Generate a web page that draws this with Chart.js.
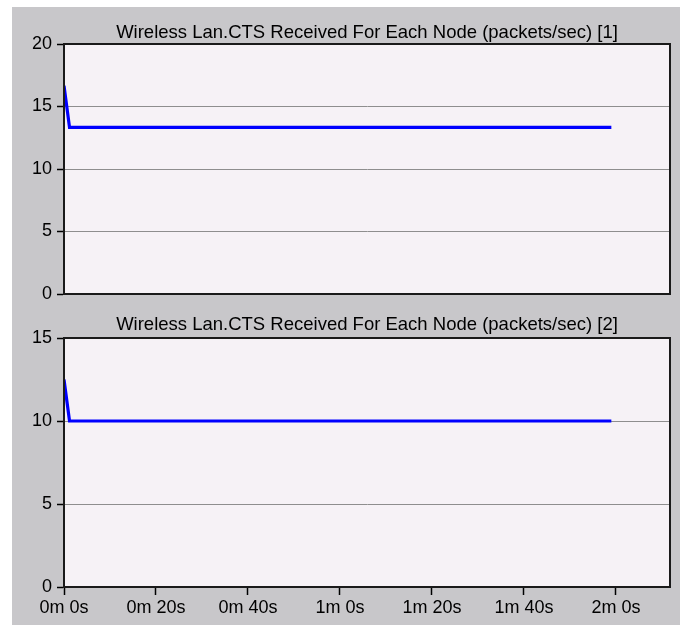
<!DOCTYPE html>
<html>
<head>
<meta charset="utf-8">
<script src="https://cdn.jsdelivr.net/npm/chart.js@4/dist/chart.umd.min.js"></script>
<style>
  html, body { margin: 0; padding: 0; background: #ffffff; }
  #panel { position: absolute; left: 12px; top: 7px; width: 668px; height: 618px; background: #c8c7ca; }
  #c1 { position: absolute; left: 0; top: 0; }
  #c2 { position: absolute; left: 0; top: 300px; }
</style>
</head>
<body>
<div id="panel">
  <canvas id="c1" width="668" height="310"></canvas>
  <canvas id="c2" width="668" height="318"></canvas>
</div>
<script>
// ---- data ----
const title1 = "Wireless Lan.CTS Received For Each Node (packets/sec) [1]";
const title2 = "Wireless Lan.CTS Received For Each Node (packets/sec) [2]";
const timeSec1 = [0, 1.2, 119];
const ctsNode1 = [16.67, 13.33, 13.33];
const timeSec2 = [0, 1.2, 119];
const ctsNode2 = [12.5, 10.0, 10.0];
const xTickValues = [0, 20, 40, 60, 80, 100, 120];
const xTickLabels = ["0m 0s", "0m 20s", "0m 40s", "1m 0s", "1m 20s", "1m 40s", "2m 0s"];
const xMax = 131.75;
const yTicks1 = [0, 5, 10, 15, 20];
const yTicks2 = [0, 5, 10, 15];

const FONT = { family: '"Liberation Sans", Arial, sans-serif', size: 18, lineHeight: 1.2 };
const TITLE_FONT = { family: '"Liberation Sans", Arial, sans-serif', size: 18.5, lineHeight: 1.2, weight: 'normal' };

const frame = {
  id: 'frame',
  beforeDraw(chart) {
    const a = chart.chartArea, ctx = chart.ctx;
    ctx.save();
    ctx.fillStyle = '#f6f2f6';
    ctx.fillRect(a.left, a.top, a.right - a.left, a.bottom - a.top);
    ctx.restore();
  },
  afterDraw(chart) {
    const a = chart.chartArea, ctx = chart.ctx;
    ctx.save();
    ctx.strokeStyle = '#1a1a1a';
    ctx.lineWidth = 2;
    ctx.strokeRect(a.left, a.top, a.right - a.left, a.bottom - a.top);
    ctx.restore();
  }
};

function pts(xs, ys) { return xs.map((x, i) => ({ x: x, y: ys[i] })); }

function makeChart(id, title, xs, ys, yMax, yTicks, showX, titlePad, xHeight) {
  return new Chart(document.getElementById(id), {
    type: 'line',
    data: {
      datasets: [{
        data: pts(xs, ys),
        borderColor: '#0000ff',
        borderWidth: 3.2,
        pointRadius: 0,
        tension: 0,
        fill: false
      }]
    },
    options: {
      responsive: false,
      animation: false,
      events: [],
      layout: { padding: { left: 0, right: 10, top: 0, bottom: 0 } },
      plugins: {
        legend: { display: false },
        tooltip: { enabled: false },
        title: {
          display: true,
          text: title,
          color: '#000000',
          font: TITLE_FONT,
          fullSize: false,
          padding: titlePad
        }
      },
      scales: {
        x: {
          type: 'linear',
          min: 0,
          max: xMax,
          afterBuildTicks: s => { s.ticks = xTickValues.map(v => ({ value: v })); },
          afterFit: s => { s.height = xHeight; },
          grid: { display: showX, drawOnChartArea: false, drawTicks: showX, tickLength: 8, tickColor: '#000000', tickWidth: 1.5 },
          border: { display: true, color: '#1a1a1a', width: 2 },
          ticks: {
            display: showX,
            color: '#000000',
            font: FONT,
            padding: 2,
            maxRotation: 0,
            autoSkip: false,
            callback: v => { const i = xTickValues.indexOf(v); return i >= 0 ? xTickLabels[i] : ''; }
          }
        },
        y: {
          min: 0,
          max: yMax,
          afterBuildTicks: s => { s.ticks = yTicks.map(v => ({ value: v })); },
          afterFit: s => { s.width = 52; },
          grid: { color: '#8e8e8e', lineWidth: 1, tickLength: 7, tickColor: '#000000', tickWidth: 1.5 },
          border: { display: true, color: '#1a1a1a', width: 2 },
          ticks: { color: '#000000', font: FONT, padding: 5 }
        }
      }
    },
    plugins: [frame]
  });
}

makeChart('c1', title1, timeSec1, ctsNode1, 20, yTicks1, false, { top: 14.4, bottom: 0.4 }, 23);
makeChart('c2', title2, timeSec2, ctsNode2, 15, yTicks2, true, { top: 7.2, bottom: 1.6 }, 38);
</script>
</body>
</html>
